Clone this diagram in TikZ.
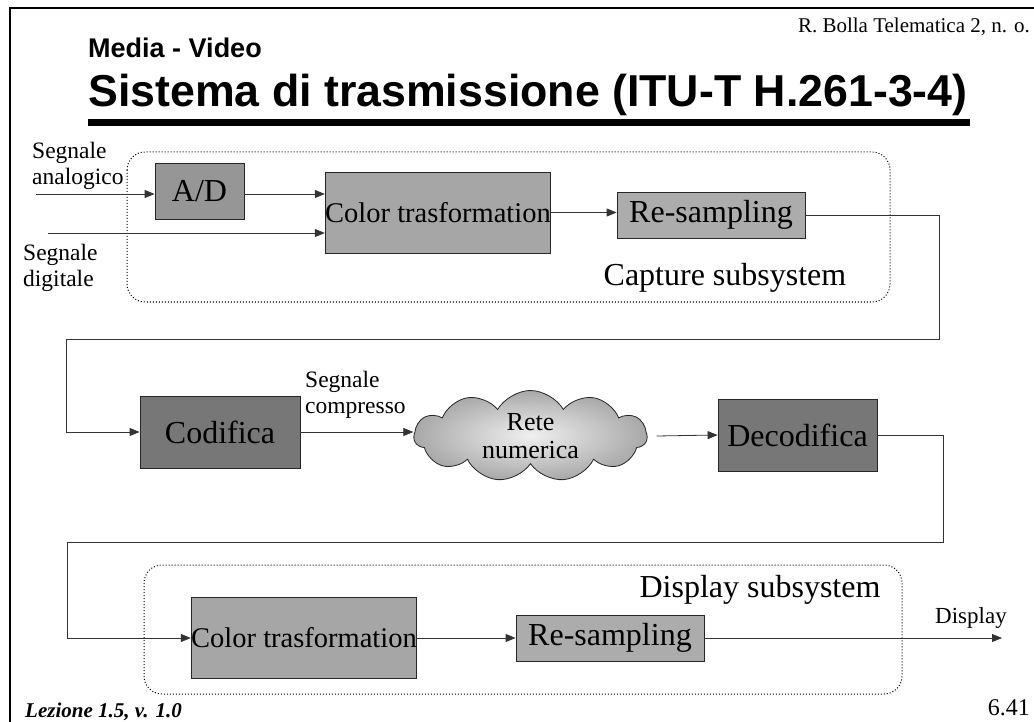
\documentclass[tikz,border=0pt]{standalone}
\usepackage{fontspec}
\setmainfont{Liberation Serif}
\newfontfamily\arialfont{Liberation Sans}
\usetikzlibrary{arrows.meta, shapes.symbols}

\definecolor{adgray}{HTML}{969696}
\definecolor{boxgray}{HTML}{A6A6A6}
\definecolor{resgray}{HTML}{ACACAC}
\definecolor{codgray}{HTML}{777777}

\begin{document}
\begin{tikzpicture}[x=1pt,y=-1pt]

% Define styles
\tikzstyle{block}=[draw=black!85, line width=0.8pt, inner sep=0pt, text=black]
\tikzstyle{bigtxt}=[font=\fontsize{32}{34}\selectfont]
\tikzstyle{midtxt}=[font=\fontsize{28.5}{30}\selectfont]
\tikzstyle{smalltxt}=[font=\fontsize{23.5}{26}\selectfont, align=left, inner sep=0pt]
\tikzstyle{wire}=[black!80, line width=0.8pt]
\tikzstyle{arr}=[wire, -{Triangle[length=10pt,width=8pt]}]
\tikzstyle{subsys}=[dotted, line width=1pt, rounded corners=18pt]

\useasboundingbox (0,0) rectangle (1034,722);

% Slide frame and header
\draw[line width=2pt] (10,722) -- (10,8.5) -- (1034,8.5);
\node[anchor=base east, inner sep=0pt, font=\fontsize{21}{23}\selectfont] (author) at (1030,33) {R. Bolla Telematica 2, n. o.};
\node[anchor=base west, inner sep=0pt, font=\arialfont\bfseries\fontsize{27}{30}\selectfont] (subtitle) at (88,58) {Media - Video};
\node[anchor=base west, inner sep=0pt, font=\arialfont\bfseries\fontsize{44.7}{48}\selectfont] (title) at (88,107) {Sistema di trasmissione (ITU-T H.261-3-4)};
\fill (88,119) rectangle (970,126);

% Subsystem frames
\draw[subsys] (127,152) rectangle (890,302);
\draw[subsys] (144,565) rectangle (902,694);
\node[bigtxt] (capture) at (725,278) {Capture subsystem};
\node[bigtxt] (display) at (760,590) {Display subsystem};

% Blocks
\node[block, fill=adgray, bigtxt, minimum width=89pt, minimum height=56pt] (ad) at (199.5,191) {A/D};
\node[block, fill=boxgray, midtxt, minimum width=216pt, minimum height=81pt] (col1) at (438,212.5) {Color trasformation};
\node[block, fill=resgray, bigtxt, minimum width=188pt, minimum height=46pt] (res1) at (711,215) {Re-sampling};
\node[block, fill=codgray, bigtxt, minimum width=160pt, minimum height=72pt] (cod) at (220,432) {Codifica};
\node[cloud, cloud puffs=11, cloud puff arc=120, cloud ignores aspect, draw=black!85, line width=0.8pt,
      shade, shading=radial, inner color=black!6, outer color=black!34,
      minimum width=233pt, minimum height=91pt, inner sep=0pt,
      align=center, font=\fontsize{26}{28.5}\selectfont] (net) at (530.5,436) {Rete\\numerica};
\node[block, fill=codgray, bigtxt, minimum width=159pt, minimum height=72pt] (deco) at (797.5,435) {Decodifica};
\node[block, fill=boxgray, midtxt, minimum width=214pt, minimum height=81pt] (col2) at (304,638) {Color trasformation};
\node[block, fill=resgray, bigtxt, minimum width=188pt, minimum height=46pt] (res2) at (610,638) {Re-sampling};

% Labels
\node[smalltxt, anchor=west] (analog) at (32,166) {Segnale\\analogico};
\node[smalltxt, anchor=west] (digital) at (23,267.5) {Segnale\\digitale};
\node[smalltxt, anchor=west] (compr) at (305,395) {Segnale\\compresso};
\node[smalltxt, anchor=west, font=\fontsize{23}{25}\selectfont] (dlabel) at (935,618) {Display};

% Free ends
\coordinate (ain) at (36,194);
\coordinate (din) at (48,233);
\coordinate (turn1) at (939,339);
\coordinate (back1) at (66,339);
\coordinate (turn2) at (943,542);
\coordinate (back2) at (67,542);
\coordinate (dout) at (1002,638);

% Connectors
\draw[arr] (ain) -- (ain -| ad.west);
\draw[arr] (ad.east |- ain) -- (ain -| col1.west);
\draw[arr] (din) -- (din -| col1.west);
\draw[arr] (col1.east) -- (col1.east -| res1.west);
\draw[arr] (res1.east) -| (turn1) -- (back1) |- (cod.west);
\draw[arr] (cod.east) -- (cod.east -| net.west);
\draw[arr] ([xshift=9pt]net.east) -- (deco.west);
\draw[arr] (deco.east) -| (turn2) -- (back2) |- (col2.west);
\draw[arr] (col2.east) -- (res2.west);
\draw[arr] (res2.east) -- (dout);

% Footer
\node[anchor=west, inner sep=0pt, font=\bfseries\itshape\fontsize{21}{23}\selectfont] (lesson) at (25,712) {Lezione 1.5, v. 1.0};
\node[anchor=east, inner sep=0pt, font=\fontsize{24}{26}\selectfont] (page) at (1030,708) {6.41};

\end{tikzpicture}
\end{document}
